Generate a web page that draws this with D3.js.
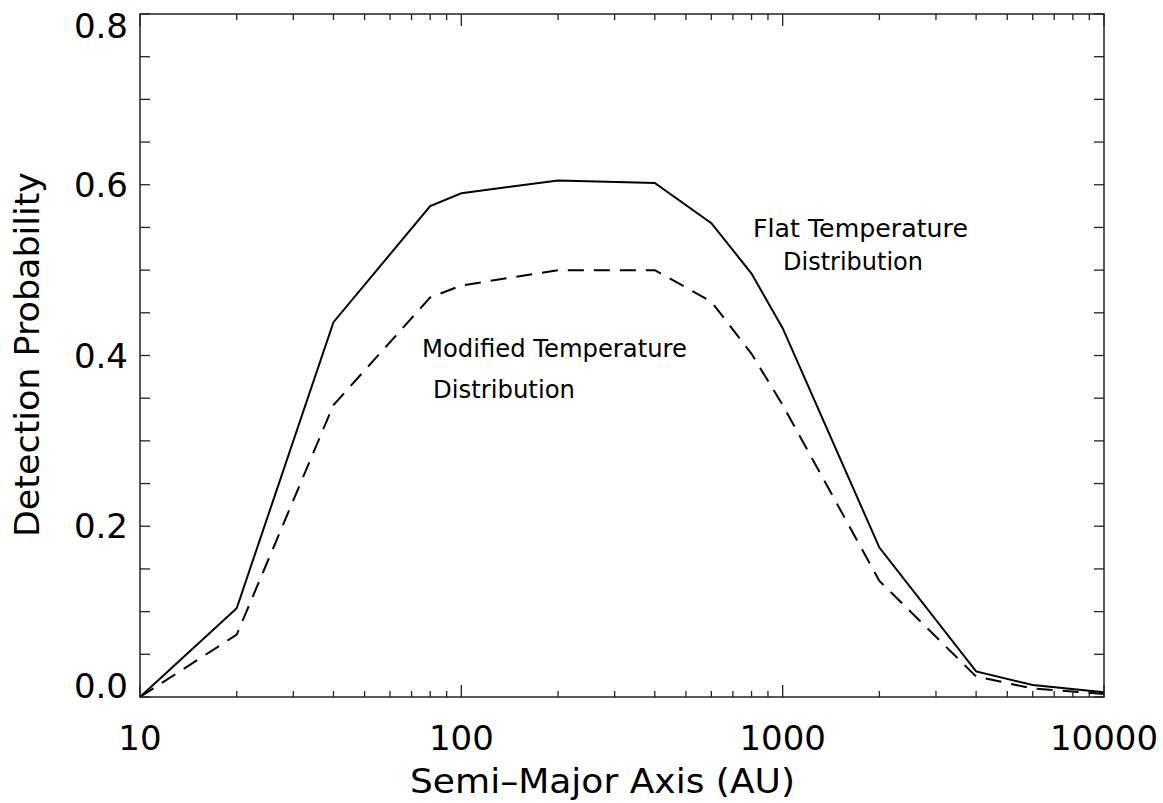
<!DOCTYPE html>
<html>
<head>
<meta charset="utf-8">
<script src="https://cdn.jsdelivr.net/npm/d3@7"></script>
<style>
  html, body { margin: 0; padding: 0; background: #fff; }
  svg { display: block; }
  text { font-family: "DejaVu Sans", sans-serif; fill: #000; }
</style>
</head>
<body>
<svg id="chart" width="1163" height="803"></svg>
<script>
// ---- data ----
const semiMajorAxis = [10, 20, 40, 80, 100, 200, 400, 600, 800, 1000, 2000, 4000, 6000, 10000];
const flatTemperature = [0.0, 0.104, 0.439, 0.575, 0.590, 0.605, 0.602, 0.555, 0.496, 0.432, 0.175, 0.030, 0.014, 0.0055];
const modifiedTemperature = [0.0, 0.073, 0.342, 0.468, 0.482, 0.500, 0.500, 0.463, 0.402, 0.342, 0.136, 0.024, 0.010, 0.0035];
const xTickValues = [10, 100, 1000, 10000];
const xTickLabels = ["10", "100", "1000", "10000"];
const yTickValues = [0, 0.2, 0.4, 0.6, 0.8];
const yTickLabels = ["0.0", "0.2", "0.4", "0.6", "0.8"];
const xTitle = "Semi\u2013Major Axis (AU)";
const yTitle = "Detection Probability";

// ---- layout ----
const svg = d3.select("#chart");
const L = 140, R = 1104, T = 14, B = 697;

const x = d3.scaleLog().domain([10, 10000]).range([L, R]);
const y = d3.scaleLinear().domain([0, 0.8]).range([B, T]);

// lines
const line = d3.line().x((d, i) => x(semiMajorAxis[i])).y(d => y(d));
svg.append("path").datum(flatTemperature)
  .attr("d", line).attr("fill", "none").attr("stroke", "#000").attr("stroke-width", 2);
svg.append("path").datum(modifiedTemperature)
  .attr("d", line).attr("fill", "none").attr("stroke", "#000").attr("stroke-width", 2)
  .attr("stroke-dasharray", "16,10");

// frame
const axisColor = "#222";
svg.append("rect").attr("x", L).attr("y", T).attr("width", R - L).attr("height", B - T)
  .attr("fill", "none").attr("stroke", axisColor).attr("stroke-width", 1.5);

// x ticks (log minor + major)
const xMinor = [];
for (let dec = 10; dec < 10000; dec *= 10) for (let k = 2; k <= 9; k++) xMinor.push(dec * k);
const xTicksG = svg.append("g");
xMinor.forEach(v => {
  xTicksG.append("line").attr("x1", x(v)).attr("x2", x(v)).attr("y1", B).attr("y2", B - 6)
    .attr("stroke", axisColor).attr("stroke-width", 1.3);
  xTicksG.append("line").attr("x1", x(v)).attr("x2", x(v)).attr("y1", T).attr("y2", T + 6)
    .attr("stroke", axisColor).attr("stroke-width", 1.3);
});
xTickValues.forEach(v => {
  xTicksG.append("line").attr("x1", x(v)).attr("x2", x(v)).attr("y1", B).attr("y2", B - 12)
    .attr("stroke", axisColor).attr("stroke-width", 1.3);
  xTicksG.append("line").attr("x1", x(v)).attr("x2", x(v)).attr("y1", T).attr("y2", T + 12)
    .attr("stroke", axisColor).attr("stroke-width", 1.3);
});

// y ticks (every 0.05)
const yTicksG = svg.append("g");
d3.range(0, 17).map(i => i * 0.05).forEach(v => {
  yTicksG.append("line").attr("x1", L).attr("x2", L + 10).attr("y1", y(v)).attr("y2", y(v))
    .attr("stroke", axisColor).attr("stroke-width", 1.3);
  yTicksG.append("line").attr("x1", R).attr("x2", R - 10).attr("y1", y(v)).attr("y2", y(v))
    .attr("stroke", axisColor).attr("stroke-width", 1.3);
});

// tick labels
xTickValues.forEach((v, i) => {
  svg.append("text").attr("x", x(v)).attr("y", 750).attr("text-anchor", "middle")
    .attr("font-size", 34).text(xTickLabels[i]);
});
yTickValues.forEach((v, i) => {
  // end labels are pulled inside the frame, like the reference
  let base = y(v) + 12;
  if (i === 0) base = y(v) + 1;
  if (i === yTickValues.length - 1) base = y(v) + 24;
  svg.append("text").attr("x", 128).attr("y", base).attr("text-anchor", "end")
    .attr("font-size", 34).text(yTickLabels[i]);
});

// axis titles
svg.append("text").attr("x", 410).attr("y", 793).attr("text-anchor", "start")
  .attr("font-size", 33).attr("textLength", 385).attr("lengthAdjust", "spacingAndGlyphs")
  .text(xTitle);
svg.append("text").attr("transform", `translate(39,537) rotate(-90)`)
  .attr("text-anchor", "start").attr("font-size", 33)
  .attr("textLength", 365).attr("lengthAdjust", "spacingAndGlyphs").text(yTitle);

// annotations
const ann = [
  {t: "Modified Temperature", x: 422, y: 357, w: 265},
  {t: "Distribution", x: 433, y: 398, w: 142},
  {t: "Flat Temperature", x: 753, y: 237, w: 215},
  {t: "Distribution", x: 783, y: 270, w: 140}
];
ann.forEach(a => {
  svg.append("text").attr("x", a.x).attr("y", a.y).attr("font-size", 25)
    .attr("textLength", a.w).attr("lengthAdjust", "spacingAndGlyphs").text(a.t);
});
</script>
</body>
</html>
